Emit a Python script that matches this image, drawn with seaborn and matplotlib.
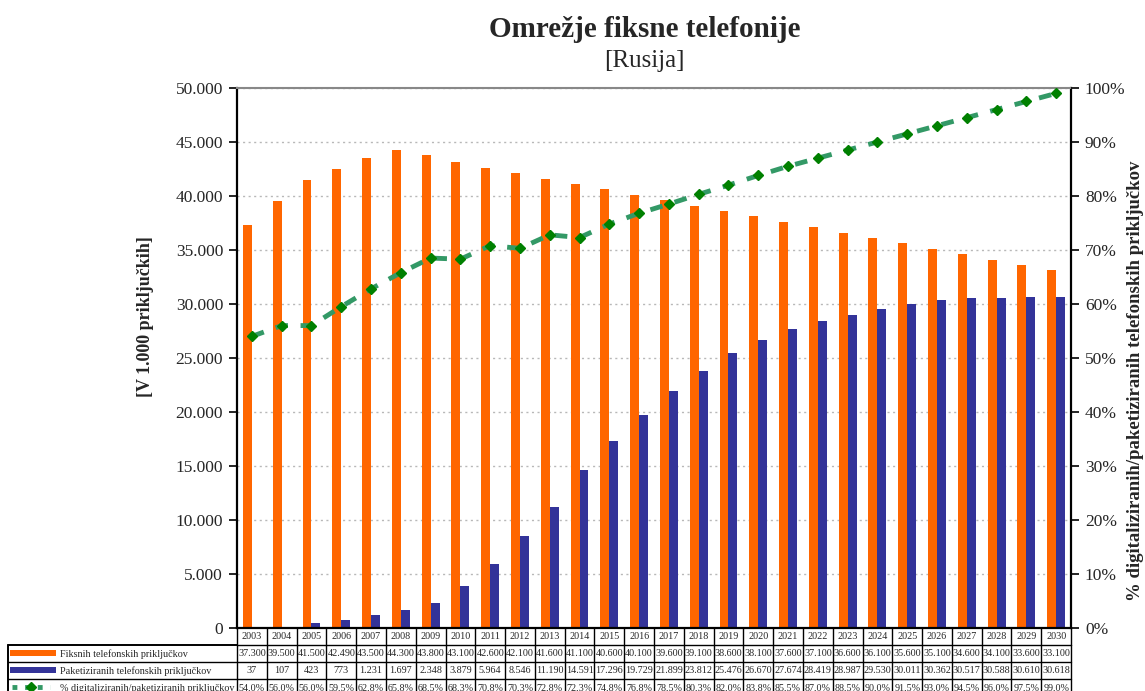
import numpy as np
import pandas as pd
import matplotlib
matplotlib.use("Agg")
import matplotlib.pyplot as plt
import seaborn as sns
from matplotlib.ticker import FuncFormatter, MultipleLocator
from matplotlib.lines import Line2D
from matplotlib.patches import Rectangle

# ---- data -------------------------------------------------------------
years = list(range(2003, 2031))
fiksni = [37300, 39500, 41500, 42490, 43500, 44300, 43800, 43100, 42600, 42100,
          41600, 41100, 40600, 40100, 39600, 39100, 38600, 38100, 37600, 37100,
          36600, 36100, 35600, 35100, 34600, 34100, 33600, 33100]
paketi = [37, 107, 423, 773, 1231, 1697, 2348, 3879, 5964, 8546,
          11190, 14591, 17296, 19729, 21899, 23812, 25476, 26670, 27674, 28419,
          28987, 29530, 30011, 30362, 30517, 30588, 30610, 30618]
digital_pct = [54.0, 56.0, 56.0, 59.5, 62.8, 65.8, 68.5, 68.3, 70.8, 70.3,
               72.8, 72.3, 74.8, 76.8, 78.5, 80.3, 82.0, 83.8, 85.5, 87.0,
               88.5, 90.0, 91.5, 93.0, 94.5, 96.0, 97.5, 99.0]

series_names = ["Fiksnih telefonskih priključkov",
                "Paketiziranih telefonskih priključkov",
                "% digitaliziranih/paketiziranih priključkov"]
title = "Omrežje fiksne telefonije"
subtitle = "[Rusija]"
left_label = "[V 1.000 priključkih]"
right_label = "% digitaliziranih/paketiziranih telefonskih priključkov"

ORANGE = "#FF6600"
BLUE = "#333399"
LINE_GREEN = "#339966"
MARK_GREEN = "#008000"

sns.set_theme(style="white")
plt.rcParams["font.family"] = ["Liberation Serif", "DejaVu Serif"]

df = pd.DataFrame({
    "leto": [str(y) for y in years] * 2,
    "vrednost": fiksni + paketi,
    "serija": [series_names[0]] * len(years) + [series_names[1]] * len(years),
})

fig = plt.figure(figsize=(11.45, 6.91), dpi=100)
ax = fig.add_axes([0.207, 0.0912, 0.7284, 0.7815])

sns.barplot(data=df, x="leto", y="vrednost", hue="serija",
            palette=[ORANGE, BLUE], width=0.6, gap=0, saturation=1,
            edgecolor="none", linewidth=0, ax=ax, legend=False)

n = len(years)
ax.set_xlim(-0.5, n - 0.5)
ax.set_ylim(0, 50000)
ax.yaxis.set_major_locator(MultipleLocator(5000))
ax.yaxis.set_major_formatter(FuncFormatter(lambda v, p: f"{int(v):,}".replace(",", ".")))
ax.set_xticks([])
ax.set_xlabel("")
ax.set_ylabel("")
ax.tick_params(axis="y", direction="out", length=6, width=1.2, labelsize=12.5,
               left=True, pad=4, color="black")
ax.grid(axis="y", color="#b8b8b8", linestyle=(0, (1.5, 2.5)), linewidth=1)
ax.set_axisbelow(True)
for s in ["left", "right"]:
    ax.spines[s].set_color("black")
    ax.spines[s].set_linewidth(1.6)
ax.spines["top"].set_color("#888888")
ax.spines["top"].set_linewidth(1.5)
ax.spines["bottom"].set_color("black")
ax.spines["bottom"].set_linewidth(1.6)

# share of digitalised connections on the right axis
ax2 = ax.twinx()
ax2.set_ylim(0, 100)
ax2.plot(range(n), digital_pct, color=LINE_GREEN, linewidth=3.5,
         linestyle=(0, (2.6, 2.6)), marker="D", markersize=5,
         markerfacecolor=MARK_GREEN, markeredgecolor=MARK_GREEN)
ax2.yaxis.set_major_locator(MultipleLocator(10))
ax2.yaxis.set_major_formatter(FuncFormatter(lambda v, p: f"{int(v)}%"))
ax2.tick_params(axis="y", direction="out", length=6, width=1.2, labelsize=12.5,
                right=True, pad=4, color="black")
ax2.set_ylabel("")
for s in ax2.spines.values():
    s.set_visible(False)

# axis titles
fig.text(145 / 1145, 1 - 317 / 691, left_label, rotation=90, ha="center",
         va="center", fontsize=13, fontweight="bold")
fig.text(1135 / 1145, 1 - 381 / 691, right_label, rotation=90, ha="center",
         va="center", fontsize=13.5, fontweight="bold")

# ---- data table under the plot -----------------------------------------
rh = 17 / 540.0          # row height in axes fraction
lab_left = -0.2746       # left edge of the label column
tk = dict(transform=ax.transAxes, clip_on=False)

def hline(y, x0, x1, lw=1.0):
    ax.add_line(Line2D([x0, x1], [y, y], color="black", linewidth=lw, **tk))

def vline(x, y0, y1, lw=1.0):
    ax.add_line(Line2D([x, x], [y0, y1], color="black", linewidth=lw, **tk))

def fmt_int(v):
    return f"{v:,}".replace(",", ".")

rows = [[fmt_int(v) for v in fiksni],
        [fmt_int(v) for v in paketi],
        [f"{v:.1f}%".replace(".", ",") for v in digital_pct]]

# year row
hline(-rh, 0, 1)
for i, y in enumerate(years):
    xc = (i + 0.5) / n
    ax.text(xc, -rh / 2, str(y), ha="center", va="center", fontsize=7.3, **tk)
for i in range(n + 1):
    vline(i / n, -rh, 0)

# value rows
for r, vals in enumerate(rows):
    y_top = -(r + 1) * rh
    y_bot = -(r + 2) * rh
    hline(y_bot, lab_left, 1)
    for i, v in enumerate(vals):
        ax.text((i + 0.5) / n, (y_top + y_bot) / 2, v, ha="center",
                va="center", fontsize=7.3, **tk)
    ax.text(lab_left + 0.062, (y_top + y_bot) / 2 - 0.002, series_names[r],
            ha="left", va="center", fontsize=7.3, **tk)
hline(-rh, lab_left, 0, lw=1.4)
vline(lab_left, -4 * rh, -rh, lw=1.4)
for i in range(n + 1):
    vline(i / n, -4 * rh, -rh)

# legend keys inside the label column
ax.add_patch(Rectangle((lab_left + 0.003, -rh - 0.66 * rh), 0.055, 0.36 * rh,
                       facecolor=ORANGE, edgecolor="none", **tk))
ax.add_patch(Rectangle((lab_left + 0.003, -2 * rh - 0.66 * rh), 0.055, 0.36 * rh,
                       facecolor=BLUE, edgecolor="none", **tk))
ax.add_line(Line2D([lab_left + 0.005, lab_left + 0.050], [-3.5 * rh, -3.5 * rh],
                   color=LINE_GREEN, linewidth=3.5, linestyle=(0, (1.0, 1.6)),
                   **tk))
ax.add_line(Line2D([lab_left + 0.0275], [-3.5 * rh], marker="D", markersize=5,
                   color=MARK_GREEN, **tk))

# ---- titles -------------------------------------------------------------
fig.text(0.563, 0.957, title, ha="center", va="center", fontsize=21,
         fontweight="bold")
fig.text(0.563, 0.912, subtitle, ha="center", va="center", fontsize=18)

fig.savefig("out.png", dpi=100)
